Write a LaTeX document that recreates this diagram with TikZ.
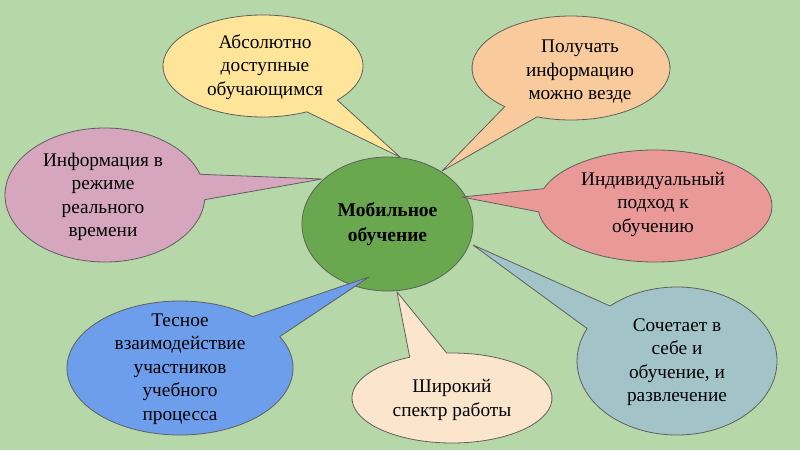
\documentclass[tikz,border=0pt]{standalone}
\usepackage{fontspec}
\setmainfont{Liberation Serif}
\newfontfamily\ruserif{Liberation Serif}
\usetikzlibrary{shapes.geometric}
\definecolor{bg}{HTML}{B6D7A8}
\definecolor{cyellow}{HTML}{FFE599}
\definecolor{corange}{HTML}{F9CB9C}
\definecolor{cpink}{HTML}{D5A6BD}
\definecolor{cgreen}{HTML}{6AA84F}
\definecolor{cred}{HTML}{EA9999}
\definecolor{cblue}{HTML}{6D9EEB}
\definecolor{cbeige}{HTML}{FCE5CD}
\definecolor{cteal}{HTML}{A2C4C9}
\definecolor{edge}{HTML}{5F5F5F}
\tikzset{
  bubble/.style={draw=edge, line width=0.8pt, line join=round},
  btext/.style={align=center, inner sep=0pt, font=\ruserif\fontsize{19.3}{23.5}\selectfont, text=black},
}
% #1 fill, #2 cx, #3 cy, #4 rx, #5 ry, #6 start angle, #7 end angle, #8 tip coordinate name
\newcommand\mybubble[8]{%
  \path[bubble, fill=#1] (#2,#3) ++(#6:#4 and #5)
    arc[start angle=#6, end angle=#7, x radius=#4, y radius=#5] -- (#8) -- cycle;}
\begin{document}
\begin{tikzpicture}[x=1pt, y=-1pt]
\useasboundingbox (0,0) rectangle (800,450);
\fill[bg] (0,0) rectangle (800,450);

% centre
\node[ellipse, draw=edge, line width=0.8pt, fill=cgreen, minimum width=171pt, minimum height=134pt, inner sep=0pt,
      align=center, font=\ruserif\fontsize{19.5}{25}\selectfont\bfseries] (centre) at (387.5,224) {Мобильное\\обучение};

% tips on the centre ellipse
\coordinate (tipA) at (400,157);
\coordinate (tipB) at (442,171);
\coordinate (tipC) at (322,179);
\coordinate (tipD) at (462,197);
\coordinate (tipE) at (369,277);
\coordinate (tipF) at (397,292);
\coordinate (tipG) at (473,245);

\mybubble{cyellow}{263}{66}{100}{51}{64}{402}{tipA}
\mybubble{corange}{571}{68}{99}{52}{132}{470}{tipB}
\mybubble{cpink}{105}{195}{100}{67}{4}{342}{tipC}
\mybubble{cred}{655}{206}{117}{56}{198}{534}{tipD}
\mybubble{cblue}{180}{368}{113}{67}{332}{670}{tipE}
\mybubble{cbeige}{452}{398}{100}{45}{267}{605}{tipF}
\mybubble{cteal}{677}{361}{100}{74}{228}{566}{tipG}

\node[btext] (tA) at (265,67) {Абсолютно\\доступные\\обучающимся};
\node[btext] (tB) at (580,72) {Получать\\информацию\\можно везде};
\node[btext] (tC) at (103,197) {Информация в\\режиме\\реального\\времени};
\node[btext] (tD) at (653,204) {Индивидуальный\\подход к\\обучению};
\node[btext] (tE) at (180,369) {Тесное\\взаимодействие\\участников\\учебного\\процесса};
\node[btext] (tF) at (452,400) {Широкий\\спектр работы};
\node[btext] (tG) at (677,362) {Сочетает в\\себе и\\обучение, и\\развлечение};
\end{tikzpicture}
\end{document}
